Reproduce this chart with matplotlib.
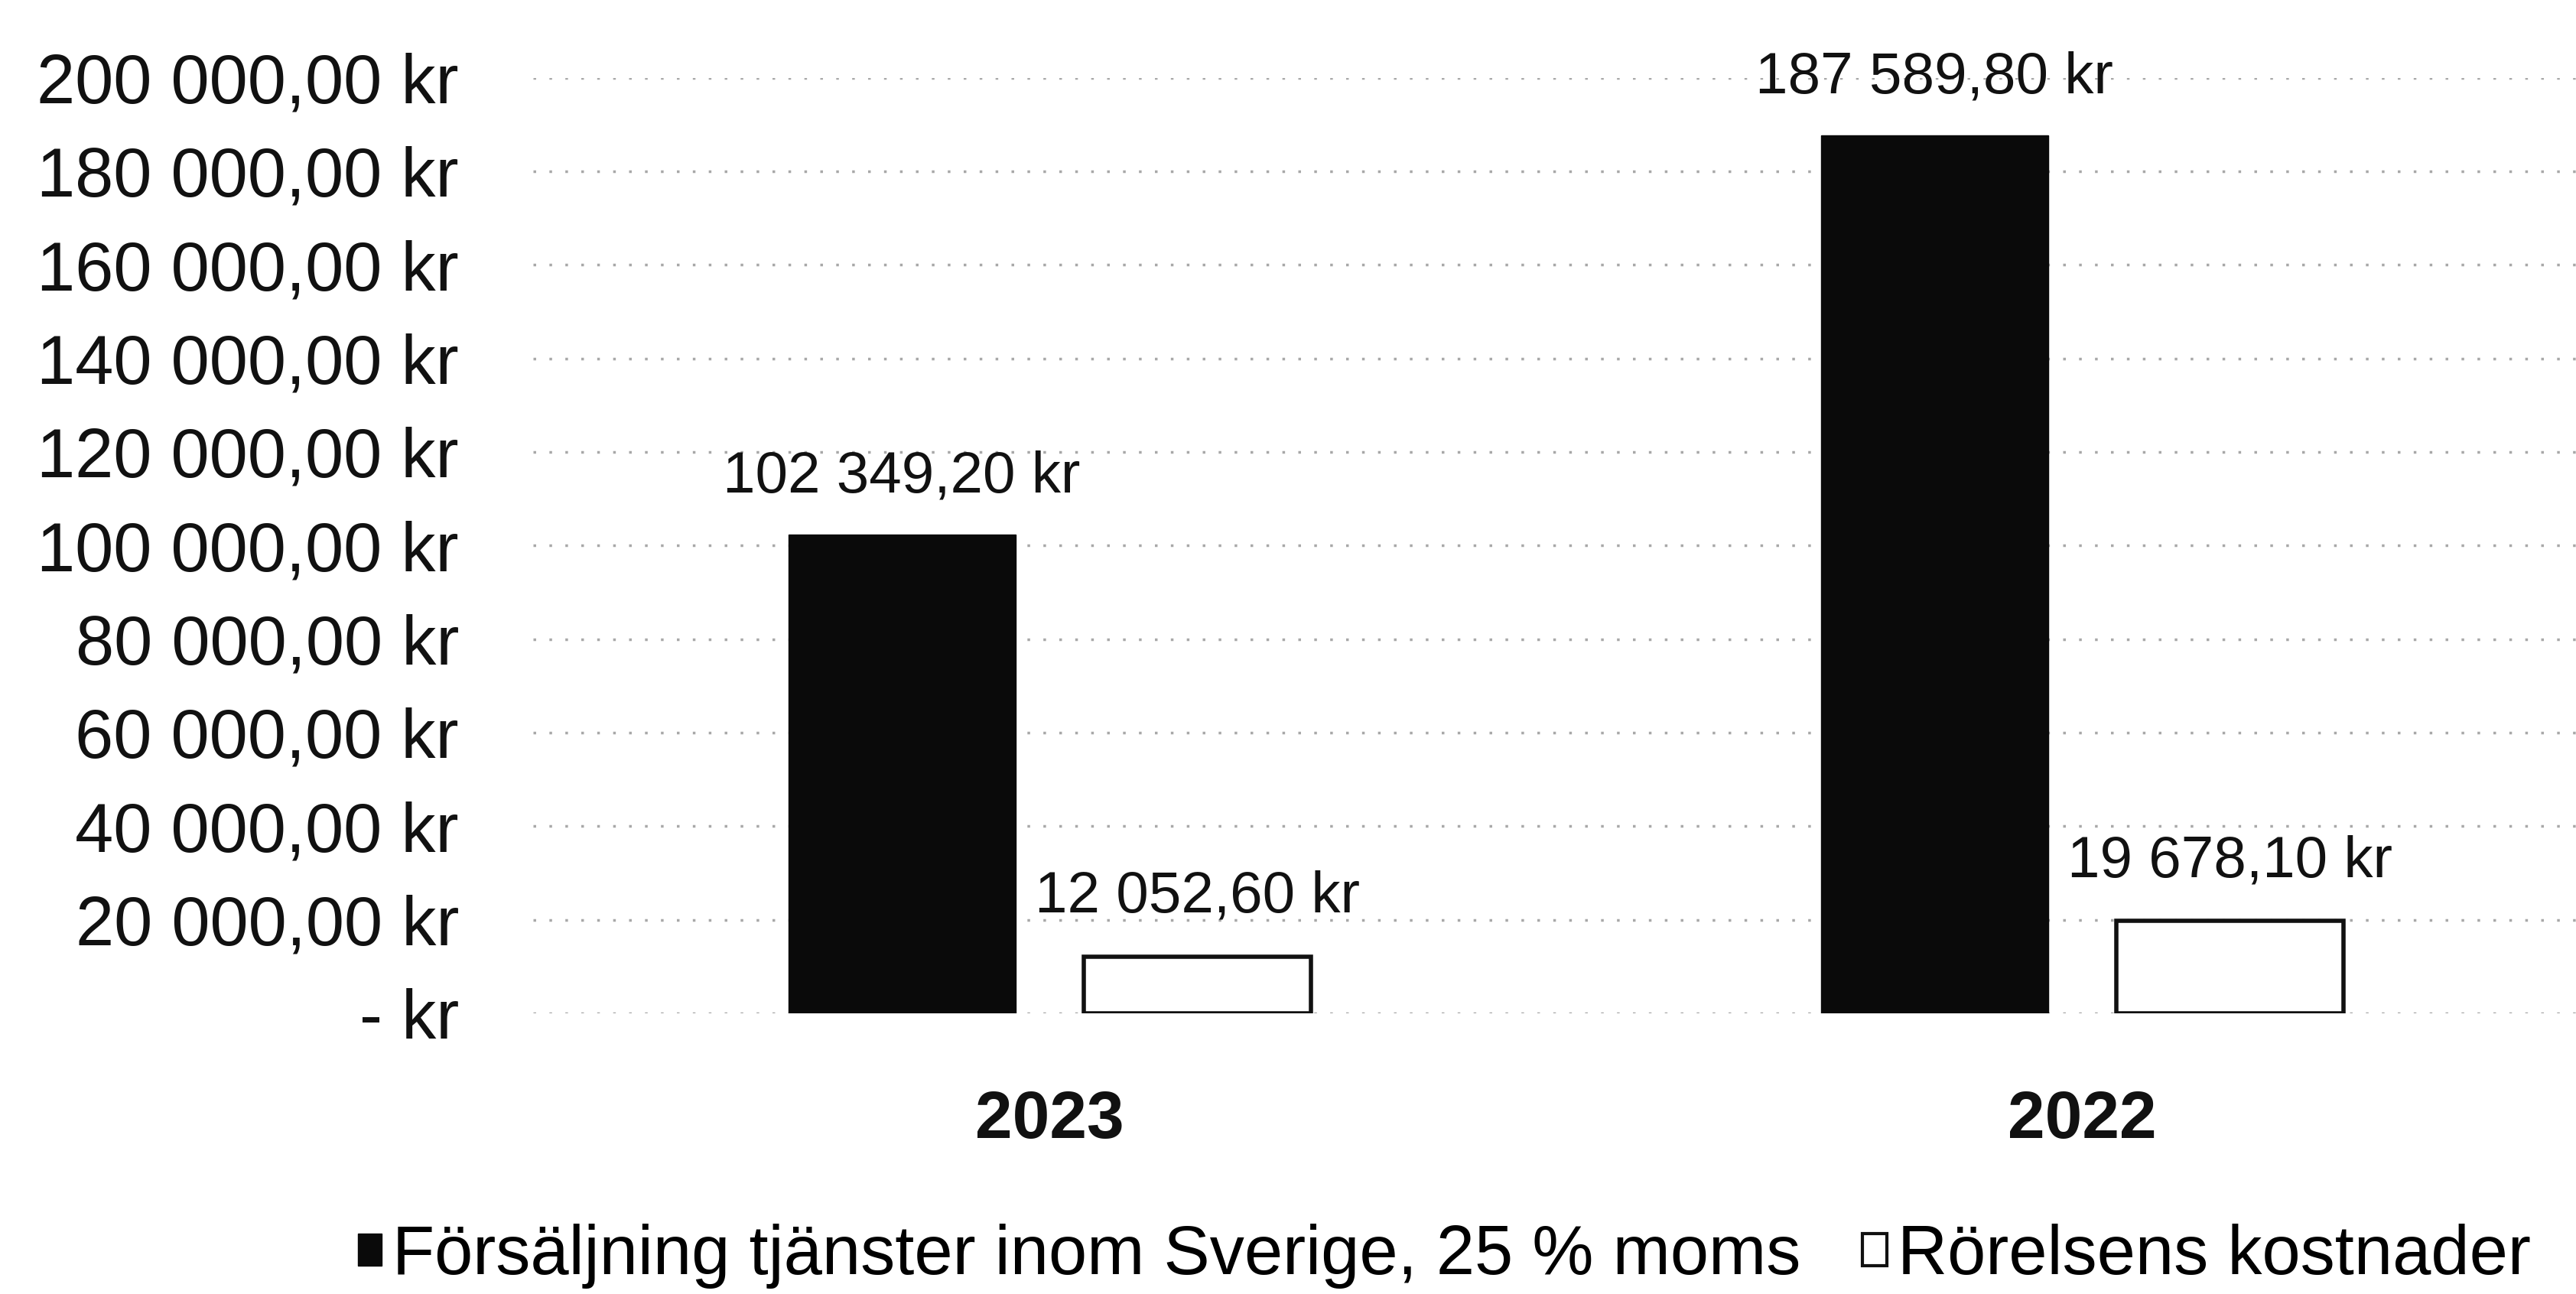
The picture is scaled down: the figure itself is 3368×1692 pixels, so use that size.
import matplotlib.pyplot as plt
import numpy as np
from matplotlib.patches import Patch

years = ['2023', '2022']
sales = [102349.20, 187589.80]
costs = [12052.60, 19678.10]
sales_labels = ['102 349,20 kr', '187 589,80 kr']
cost_labels = ['12 052,60 kr', '19 678,10 kr']
yticks = [0, 20000, 40000, 60000, 80000, 100000, 120000, 140000, 160000, 180000, 200000]
ytick_labels = ['- kr', '20 000,00 kr', '40 000,00 kr', '60 000,00 kr', '80 000,00 kr',
                '100 000,00 kr', '120 000,00 kr', '140 000,00 kr', '160 000,00 kr',
                '180 000,00 kr', '200 000,00 kr']
legend_names = ['Försäljning tjänster inom Sverige, 25 % moms', 'Rörelsens kostnader']

plt.rcParams['font.family'] = ['Liberation Sans', 'DejaVu Sans']

fig = plt.figure(figsize=(33.68, 16.92), dpi=100)
ax = fig.add_axes([0.207, 0.217, 0.8017, 0.723])

x = np.arange(len(years))
w = 0.22
off = 0.143

ax.bar(x - off, sales, w, color='#0a0a0a', edgecolor='#0a0a0a', zorder=3)
ax.bar(x + off, costs, w, color='white', edgecolor='#111111', linewidth=4, zorder=3)

for i in range(len(years)):
    ax.annotate(sales_labels[i], (x[i] - off, sales[i]), xytext=(0, 54),
                textcoords='offset points', ha='center', va='center',
                fontsize=55, color='#111111', annotation_clip=False)
    ax.annotate(cost_labels[i], (x[i] + off, costs[i]), xytext=(0, 56),
                textcoords='offset points', ha='center', va='center',
                fontsize=55, color='#111111', annotation_clip=False)

ax.set_xlim(-0.5, 1.5)
ax.set_ylim(0, 200000)
ax.set_yticks(yticks)
ax.set_yticklabels(ytick_labels, fontsize=65, color='#111111')
ax.set_xticks(x)
ax.set_xticklabels(years, fontsize=63, fontweight='bold', color='#111111')
ax.tick_params(axis='y', length=0, pad=70)
ax.tick_params(axis='x', length=0, pad=72)

ax.grid(axis='y', color='#a8a8a8', linestyle=(0, (1, 5)), linewidth=2.5, zorder=0)
for s in ax.spines.values():
    s.set_visible(False)

handles = [Patch(facecolor='#0a0a0a', edgecolor='#0a0a0a'),
           Patch(facecolor='white', edgecolor='#111111', linewidth=3)]
fig.legend(handles, legend_names, loc='center', bbox_to_anchor=(0.5606, 0.029),
           ncol=2, frameon=False, fontsize=65, handlelength=0.35, handleheight=0.35,
           handletextpad=0.15, columnspacing=0.9)

fig.savefig('out.png', dpi=100)
